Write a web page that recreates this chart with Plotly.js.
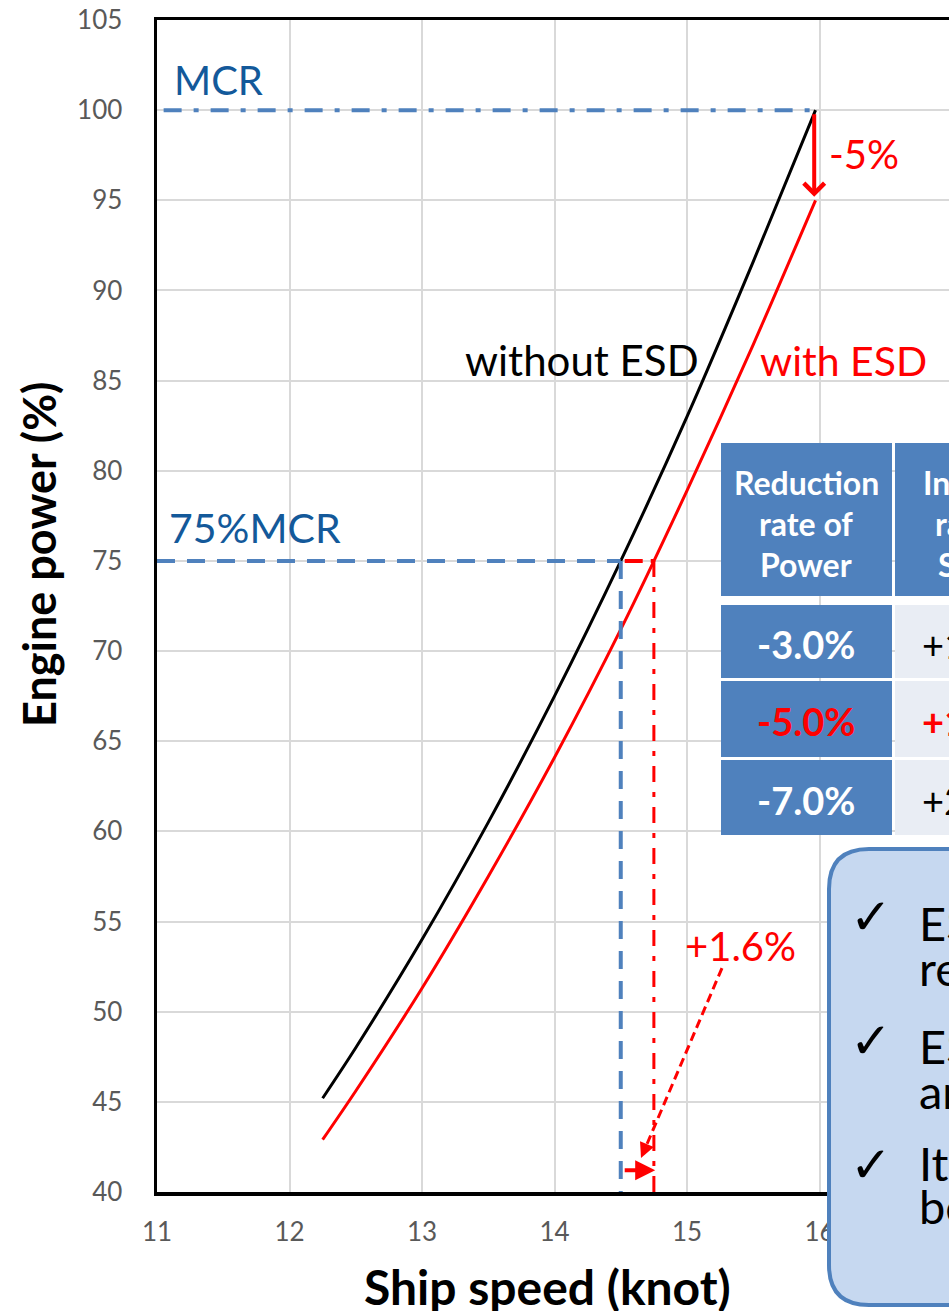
<!DOCTYPE html>
<html><head><meta charset="utf-8">
<script src="https://cdn.plot.ly/plotly-3.0.1.min.js"></script>
<style>html,body{margin:0;padding:0;overflow:hidden;background:#fff}#chart{width:1000px;height:1311px}</style>
</head><body><div id="chart"></div>
<script>
// ---- data ----
const speed        = [12.25, 12.5, 13.0, 13.5, 14.0, 14.5, 15.0, 15.5, 15.97];
const powerWithout = [45.2, 48.0, 54.0, 60.5, 67.5, 75.0, 83.0, 91.6, 100.0];
const powerWith    = [42.9, 45.6, 51.3, 57.5, 64.1, 71.2, 78.9, 87.0, 95.0];

const mcrPower = 100;
const ratedSpeed = 15.97;
const partPower = 75;
const speed75Without = 14.5;
const speed75With = 14.75;
const reducedPower = 95;

const xTicks = [11, 12, 13, 14, 15, 16, 17];
const yTicks = [40, 45, 50, 55, 60, 65, 70, 75, 80, 85, 90, 95, 100, 105];

const tableHeader = ['Reduction<br>rate of<br>Power', 'Increase<br>rate of<br>Speed'];
const powerReduction = ['-3.0%', '-5.0%', '-7.0%'];
const speedIncrease  = ['+1.0%', '+1.6%', '+2.3%'];
const highlightRow = 1;

const notes = [
  ['ESD is effective for', 'reducing the engine power'],
  ['ESD increases the ship speed', 'around 1.6% at 75%MCR'],
  ['It is possible to', 'be a fuel saving']
];

// ---- layout geometry ----
const W = 1000, H = 1311, L = 157, R = 48, T = 20, B = 119;
const pw = W - L - R, ph = H - T - B;
const px = x => (x - L) / pw;
const py = y => (H - B - y) / ph;

const FONT = 'Lato, "Open Sans", sans-serif';
const BLUE = '#4F81BD';
const TXTBLUE = '#13599A';
const RED = '#FF0000';

function txt(text, x, y, o) {
  o = o || {};
  return {xref: 'paper', yref: 'paper', x: px(x), y: py(y), text: text, showarrow: false,
    xanchor: o.xa || 'left', yanchor: 'middle', align: o.align || 'left',
    textangle: o.angle || 0,
    font: {family: o.family || FONT, size: o.size || 40, color: o.color || '#000'}};
}
function rect(x0, y0, x1, y1, fill) {
  return {type: 'rect', xref: 'paper', yref: 'paper', x0: px(x0), x1: px(x1), y0: py(y0), y1: py(y1),
    fillcolor: fill, line: {width: 0}, layer: 'above'};
}
function roundRect(x0, y0, x1, y1, r) {
  const P = (x, y) => px(x) + ',' + py(y);
  return 'M' + P(x0 + r, y0) + ' L' + P(x1 - r, y0) + ' Q' + P(x1, y0) + ' ' + P(x1, y0 + r) +
    ' L' + P(x1, y1 - r) + ' Q' + P(x1, y1) + ' ' + P(x1 - r, y1) +
    ' L' + P(x0 + r, y1) + ' Q' + P(x0, y1) + ' ' + P(x0, y1 - r) +
    ' L' + P(x0, y0 + r) + ' Q' + P(x0, y0) + ' ' + P(x0 + r, y0) + ' Z';
}

const traces = [
  {x: speed, y: powerWithout, mode: 'lines', line: {color: '#000', width: 3, shape: 'spline', smoothing: 0.8}, hoverinfo: 'skip'},
  {x: speed, y: powerWith, mode: 'lines', line: {color: RED, width: 3, shape: 'spline', smoothing: 0.8}, hoverinfo: 'skip'},
  {x: [11.05, ratedSpeed], y: [mcrPower, mcrPower], mode: 'lines', line: {color: BLUE, width: 4, dash: '18px,12px,5px,12px'}},
  {x: [11, speed75Without], y: [partPower, partPower], mode: 'lines', line: {color: BLUE, width: 4, dash: '18px,12px'}},
  {x: [speed75Without, speed75Without], y: [partPower, 40], mode: 'lines', line: {color: BLUE, width: 4, dash: '18px,12px'}},
  {x: [speed75Without + 0.03, speed75With], y: [partPower, partPower], mode: 'lines', line: {color: RED, width: 4, dash: '18px,8px'}},
  {x: [speed75With, speed75With], y: [partPower, 40], mode: 'lines', line: {color: RED, width: 3, dash: '16px,10px,5px,10px'}}
];

const shapes = [];
const annotations = [];

// table
const c1 = [721, 892], c2 = [895, 1040];
const hdr = [443, 596];
const rows = [[605, 678], [681, 757], [760, 835]];
shapes.push(rect(c1[0], hdr[0], c1[1], hdr[1], BLUE));
shapes.push(rect(c2[0], hdr[0], c2[1], hdr[1], BLUE));
rows.forEach(r => {
  shapes.push(rect(c1[0], r[0], c1[1], r[1], BLUE));
  shapes.push(rect(c2[0], r[0], c2[1], r[1], '#E9EDF4'));
});
const hdrLines = [482, 523, 564];
tableHeader.forEach((h, i) => {
  const cx = i === 0 ? 806 : 982;
  h.split('<br>').forEach((ln, j) => annotations.push(txt('<b>' + ln + '</b>', cx, hdrLines[j], {xa: 'center', size: 32, color: '#fff'})));
});
rows.forEach((r, i) => {
  const cy = (r[0] + r[1]) / 2 + 2;
  annotations.push(txt('<b>' + powerReduction[i] + '</b>', 806, cy, {xa: 'center', size: 38, color: i === highlightRow ? RED : '#fff'}));
  annotations.push(txt(i === highlightRow ? '<b>' + speedIncrease[i] + '</b>' : speedIncrease[i], 920, cy, {xa: 'left', size: 38, color: i === highlightRow ? RED : '#000'}));
});

// notes box
shapes.push({type: 'path', xref: 'paper', yref: 'paper', path: roundRect(829, 849, 1150, 1305, 40),
  fillcolor: '#C6D8F0', line: {color: BLUE, width: 4}, layer: 'above'});
const noteY = [[923, 968], [1046, 1091], [1163, 1206]];
const checkY = [917, 1041, 1165];
notes.forEach((n, i) => {
  annotations.push(txt('<b>\u2713</b>', 871, checkY[i], {xa: 'center', size: 50, family: 'DejaVu Sans'}));
  annotations.push(txt(n[0], 917, noteY[i][0], {size: 47}));
  annotations.push(txt(n[1], 917, noteY[i][1], {size: 47}));
});

// labels
annotations.push(txt('MCR', 172, 80, {size: 40, color: TXTBLUE}));
annotations.push(txt('75%MCR', 167, 527, {size: 41, color: TXTBLUE}));
annotations.push(txt('without ESD', 463, 360, {size: 42}));
annotations.push(txt('with ESD', 758, 360, {size: 41, color: RED}));
annotations.push(txt('-5%', 827, 154, {size: 40, color: RED}));
annotations.push(txt('+1.6%', 683, 946, {size: 40, color: RED}));

// axis titles
annotations.push(txt('<b>Engine power (%)</b>', 39, 555, {xa: 'center', size: 45, angle: -90}));
annotations.push(txt('<b>Ship speed (knot)</b>', 547, 1286, {xa: 'center', size: 48}));

// arrows
annotations.push({xref: 'x', yref: 'y', x: ratedSpeed - 0.01, y: reducedPower + 0.2, ax: 0, ay: -84,
  showarrow: true, arrowhead: 4, arrowsize: 1, arrowwidth: 4, arrowcolor: RED, text: ''});
annotations.push({xref: 'x', yref: 'y', x: speed75With + 0.01, y: 41.2, ax: -32, ay: 0,
  showarrow: true, arrowhead: 2, arrowsize: 1, arrowwidth: 4, arrowcolor: RED, text: ''});
annotations.push({xref: 'x', yref: 'y', x: 14.653, y: 41.89, ax: 6, ay: -14,
  showarrow: true, arrowhead: 2, arrowsize: 1, arrowwidth: 3, arrowcolor: RED, text: ''});
shapes.push({type: 'line', xref: 'x', yref: 'y', x0: 15.264, y0: 52.42, x1: 14.698, y1: 42.66,
  line: {color: RED, width: 3, dash: '9px,5px'}, layer: 'above'});

const layout = {
  width: W, height: H, margin: {l: L, r: R, t: T, b: B},
  paper_bgcolor: '#fff', plot_bgcolor: '#fff', showlegend: false,
  font: {family: FONT},
  xaxis: {range: [11, 17], tickvals: xTicks, ticktext: xTicks.map(String), showgrid: true, gridcolor: '#D9D9D9', gridwidth: 2,
    showline: true, mirror: true, linecolor: '#000', linewidth: 3.5, zeroline: false, ticks: '',
    ticklabelstandoff: 14, tickfont: {size: 26, color: '#595959', family: FONT}, fixedrange: true},
  yaxis: {range: [40, 105], tickvals: yTicks, ticktext: yTicks.map(String), showgrid: true, gridcolor: '#D9D9D9', gridwidth: 2,
    showline: true, mirror: true, linecolor: '#000', linewidth: 3.5, zeroline: false, ticks: '',
    ticklabelstandoff: 26, tickfont: {size: 26, color: '#595959', family: FONT}, fixedrange: true},
  shapes: shapes, annotations: annotations
};
Plotly.newPlot('chart', traces, layout, {displayModeBar: false, staticPlot: true});
</script></body></html>
